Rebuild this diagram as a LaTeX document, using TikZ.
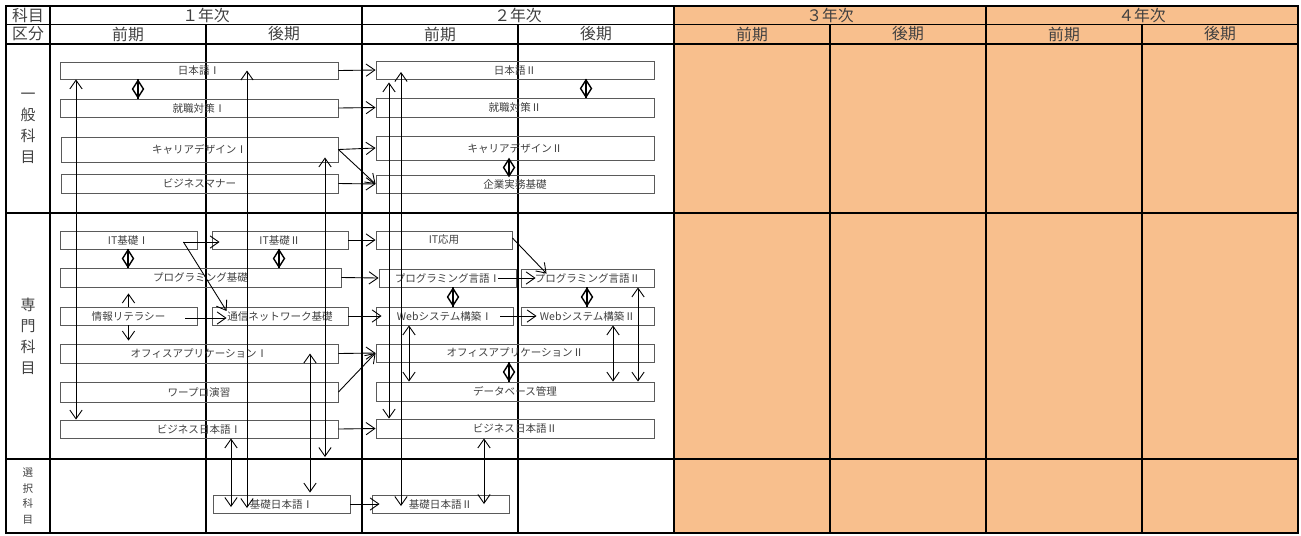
\documentclass[tikz,border=0pt]{standalone}
\usepackage{fontspec}
\setmainfont{Noto Sans CJK JP}
\usetikzlibrary{arrows.meta}
\usetikzlibrary{shapes.geometric,calc}

\definecolor{kaki}{RGB}{248,191,141}
\definecolor{waku}{RGB}{90,90,90}
\definecolor{moji}{RGB}{64,64,64}

\tikzset{
  subj/.style={draw=waku, line width=0.5pt, inner sep=0pt, text=moji, font=\fontsize{6}{7}\selectfont},
  hdr/.style={text=moji, inner sep=0pt, font=\fontsize{9}{10}\selectfont},
  arr/.style={-{Straight Barb[length=5pt,width=7pt]}, line width=0.5pt},
  both/.style={{Straight Barb[length=5pt,width=7pt]}-{Straight Barb[length=5pt,width=7pt]}, line width=0.5pt},
  link/.style={line width=0.8pt},
  hishi/.style={diamond, draw, line width=0.8pt, minimum width=6.5pt, minimum height=10pt, inner sep=0pt}
}

% one subject box: name, x1, y1, x2, y2, text (pixel units)
\newcommand{\kamoku}[6]{%
  \node[subj, minimum width={(#4-#2)*0.02cm}, minimum height={(#5-#3)*0.02cm}]
    (#1) at ({(#2+#4)/2},{(#3+#5)/2}) {#6};}

\begin{document}
\begin{tikzpicture}[x=0.02cm,y=-0.02cm]
  \useasboundingbox (0,0) rectangle (1301,535);

  % grid
  \fill[kaki] (674,6) rectangle (1298,533);
  \foreach \y in {24.5,44} \draw[line width=1.1pt] (6,\y) -- (1298,\y);
  \foreach \y in {213,459} \draw[line width=0.9pt] (6,\y) -- (1298,\y);
  \foreach \x in {50,362,674,986} \draw[line width=1.1pt] (\x,6) -- (\x,533);
  \foreach \x in {206,518,830,1142} \draw[line width=0.6pt] (\x,24.5) -- (\x,533);
  \draw[line width=1.1pt] (6,6) rectangle (1298,533);

  % headings
  \node[hdr] (kamoku) at (28,15) {科目};
  \node[hdr] (kubun) at (28,34) {区分};
  \foreach \x/\t [count=\i] in {206/１,518/２,830/３,1142/４}
    \node[hdr] (nen\i) at (\x,15) {\t 年次};
  \foreach \x/\t [count=\i] in {128/前期,284/後期,440/前期,596/後期,752/前期,908/後期,1064/前期,1220/後期}
    \node[hdr] (ki\i) at (\x,34) {\t};
  \node[hdr, align=center, font=\fontsize{8.5}{12}\selectfont] (ippan) at (28,128) {一\\般\\科\\目};
  \node[hdr, align=center, font=\fontsize{8.5}{12}\selectfont] (senmon) at (28,336) {専\\門\\科\\目};
  \node[hdr, align=center, font=\fontsize{6}{9}\selectfont] (sentaku) at (28,496) {選\\択\\科\\目};

  % general subjects
  \kamoku{nihonA}{60}{62}{338}{79}{日本語Ⅰ}
  \kamoku{shuA}{60}{99}{338}{117}{就職対策Ⅰ}
  \kamoku{carA}{61}{137}{338}{162}{キャリアデザインⅠ}
  \kamoku{manner}{61}{174}{338}{193}{ビジネスマナー}
  \kamoku{nihonB}{376}{61}{654}{79}{日本語Ⅱ}
  \kamoku{shuB}{376}{98}{654}{117}{就職対策Ⅱ}
  \kamoku{carB}{376}{136}{654}{160}{キャリアデザインⅡ}
  \kamoku{kigyo}{376}{175}{654}{193}{企業実務基礎}

  % special subjects
  \kamoku{itA}{60}{231}{197}{249}{IT基礎Ⅰ}
  \kamoku{itB}{212}{231}{348}{249}{IT基礎Ⅱ}
  \kamoku{itC}{376}{231}{512}{249}{IT応用}
  \kamoku{progkiso}{60}{268}{341}{287}{プログラミング基礎}
  \kamoku{progA}{379}{269}{516}{287}{プログラミング言語Ⅰ}
  \kamoku{progB}{521}{269}{654}{287}{プログラミング言語Ⅱ}
  \kamoku{joho}{60}{307}{197}{325}{情報リテラシー}
  \kamoku{tsushin}{212}{307}{348}{325}{通信ネットワーク基礎}
  \kamoku{webA}{376}{307}{513}{325}{Webシステム構築Ⅰ}
  \kamoku{webB}{521}{307}{654}{325}{Webシステム構築Ⅱ}
  \kamoku{officeA}{60}{344}{338}{363}{オフィスアプリケーションⅠ}
  \kamoku{officeB}{376}{344}{654}{362}{オフィスアプリケーションⅡ}
  \kamoku{wapuro}{60}{382}{338}{402}{ワープロ演習}
  \kamoku{db}{376}{382}{654}{401}{データベース管理}
  \kamoku{bizA}{60}{420}{338}{438}{ビジネス日本語Ⅰ}
  \kamoku{bizB}{376}{419}{654}{438}{ビジネス日本語Ⅱ}

  % elective subjects
  \kamoku{kisoA}{213}{495}{350}{513}{基礎日本語Ⅰ}
  \kamoku{kisoB}{372}{495}{509}{513}{基礎日本語Ⅱ}

  % year 1 -> year 2
  \draw[arr] (nihonA.east) -- (nihonB.west);
  \draw[arr] (shuA.east) -- (shuB.west);
  \draw[arr] (carA.east) -- (carB.west);
  \draw[arr] (carA.east) -- (kigyo.west);
  \draw[arr] (manner.east) -- (kigyo.west);
  \draw[arr] ($(itA.east)+(-14,2)$) -- ($(itB.west)+(8,2)$);
  \draw[arr] ($(itA.east)+(-14,2)$) -- ($(tsushin.west)+(15,-5)$);
  \draw[arr] ($(joho.east)+(-12,2)$) -- ($(tsushin.west)+(15,2)$);
  \draw[arr] (itB.east) -- (itC.west);
  \draw[arr] (progkiso.east) -- (progA.west);
  \draw[arr] (tsushin.east) -- ($(webA.west)+(6,0)$);
  \draw[arr] ($(itC.east)+(0,-2)$) -- ($(progB.north west)+(26,5)$);
  \draw[arr] ($(progA.east)+(-18,0)$) -- ($(progB.west)+(15,0)$);
  \draw[arr] ($(webA.east)+(-13,0)$) -- ($(webB.west)+(16,0)$);
  \draw[arr] (officeA.east) -- (officeB.west);
  \draw[arr] (wapuro.east) -- (officeB.west);
  \draw[arr] (bizA.east) -- (bizB.west);
  \draw[arr] (kisoA.east) -- ($(kisoB.west)+(8,0)$);
  \draw[arr] (joho.north) -- ($(joho.north |- progkiso.south)+(0,6)$);
  \draw[arr] (joho.south) -- ($(joho.south |- officeA.north)+(0,-3)$);

  % paired subjects
  \coordinate (d1) at (138,0);
  \coordinate (d2) at (586,0);
  \coordinate (d3) at (509,0);
  \coordinate (d4) at (128,0);
  \coordinate (d5) at (279,0);
  \coordinate (d6) at (453,0);
  \coordinate (d7) at (587,0);
  \draw[link] (d1 |- nihonA.south) -- (d1 |- shuA.north) node[midway,hishi]{};
  \draw[link] (d2 |- nihonB.south) -- (d2 |- shuB.north) node[midway,hishi]{};
  \draw[link] (d3 |- carB.south) -- (d3 |- kigyo.north) node[midway,hishi]{};
  \draw[link] (d4 |- itA.south) -- (d4 |- progkiso.north) node[midway,hishi]{};
  \draw[link] (d5 |- itB.south) -- (d5 |- progkiso.north) node[midway,hishi]{};
  \draw[link] (d6 |- progA.south) -- (d6 |- webA.north) node[midway,hishi]{};
  \draw[link] (d7 |- progB.south) -- (d7 |- webB.north) node[midway,hishi]{};
  \draw[link] (d3 |- officeB.south) -- (d3 |- db.north) node[midway,hishi]{};

  % long links
  \coordinate (xa) at (76,0);
  \coordinate (xb) at (247,0);
  \coordinate (xc) at (325,0);
  \coordinate (xd) at (389,0);
  \coordinate (xe) at (401,0);
  \coordinate (xf) at (310,0);
  \coordinate (xg) at (231,0);
  \coordinate (xh) at (484,0);
  \coordinate (xi) at (409,0);
  \coordinate (xj) at (613,0);
  \coordinate (xk) at (638,0);
  \coordinate (cend) at (325,457);
  \draw[both] (xa |- nihonA.south) -- (xa |- bizA.north);
  \draw[both] (xb |- nihonA.center) -- ($(xb |- kisoA.center)+(0,4)$);
  \draw[both] ($(xc |- carA.south)+(0,-5)$) -- (cend);
  \draw[both] ($(xd |- nihonB.south)+(0,3)$) -- (xd |- bizB.north);
  \draw[both] ($(xe |- nihonB.center)+(0,2)$) -- ($(xe |- kisoB.center)+(0,2)$);
  \draw[both] (xf |- officeA.center) -- ($(xf |- kisoA.north)+(0,-2)$);
  \draw[both] (xg |- bizA.south) -- ($(xg |- kisoA.center)+(0,3)$);
  \draw[both] (xh |- bizB.south) -- (xh |- kisoB.center);
  \draw[both] (xi |- webA.south) -- (xi |- db.north);
  \draw[both] (xj |- webB.south) -- (xj |- db.north);
  \draw[both] (xk |- progB.south) -- (xk |- db.north);
\end{tikzpicture}
\end{document}
